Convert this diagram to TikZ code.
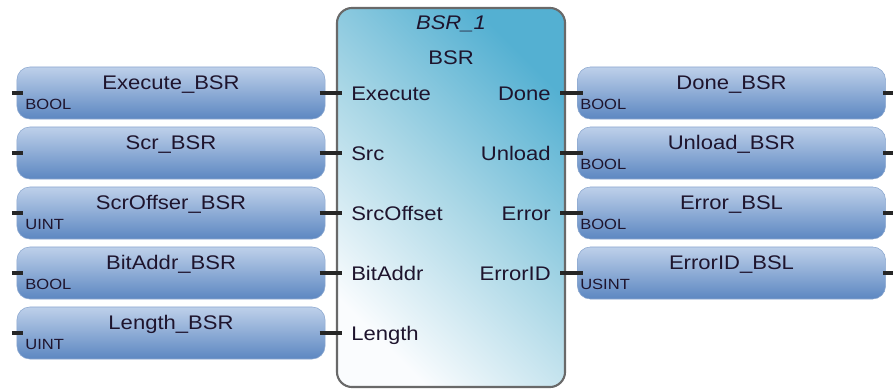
\documentclass[tikz,border=0pt]{standalone}
\usepackage{fontspec}
\setmainfont{Liberation Sans}[FakeStretch=1.12]
\usetikzlibrary{positioning}
\definecolor{varTop}{RGB}{190,208,234}
\definecolor{varBot}{RGB}{92,135,193}
\definecolor{varEdge}{RGB}{140,168,208}
\definecolor{fbTop}{RGB}{84,176,210}
\definecolor{fbMid}{RGB}{170,215,230}
\definecolor{fbBot}{RGB}{250,252,254}
\definecolor{fbEdge}{RGB}{105,105,105}
\definecolor{txt}{RGB}{30,20,45}
\tikzset{
  varbox/.style={rectangle, rounded corners=0.32cm, draw=varEdge, line width=0.4pt,
    top color=varTop, bottom color=varBot, minimum width=7.7cm, minimum height=1.3cm,
    inner sep=0pt, text=txt, text height=10pt, text depth=15.6pt},
  vartype/.style={anchor=base west, inner sep=0pt, text=txt,
    font=\fontsize{10.5}{12}\selectfont},
  pinlbl/.style={inner sep=0pt, text height=10pt, text depth=0pt, text=txt},
  stub/.style={line width=2.2pt, draw=black!85},
}
\begin{document}
\begin{tikzpicture}[x=0.025cm, y=-0.025cm, font=\fontsize{14}{16}\selectfont]
  \useasboundingbox (0,0) rectangle (894,392);
  % function block
  \node[draw=fbEdge, line width=1.5pt, rounded corners=0.38cm, minimum width=5.7cm,
    minimum height=9.475cm, top color=fbTop, bottom color=fbBot, middle color=fbMid,
    shading angle=-45] (bsr) at (451,197.5) {};
  \node[pinlbl, font=\fontsize{14}{16}\selectfont\itshape] (bsrinst) at (451,22) {BSR\_1};
  \node[pinlbl] (bsrtype) at (451,57) {BSR};
  \node[pinlbl, anchor=west] (pExecute) at (351,93) {Execute};
  \node[pinlbl, anchor=west] (pSrc) at (351,153) {Src};
  \node[pinlbl, anchor=west] (pSrcOffset) at (351,213) {SrcOffset};
  \node[pinlbl, anchor=west] (pBitAddr) at (351,273) {BitAddr};
  \node[pinlbl, anchor=west] (pLength) at (351,333) {Length};
  \node[pinlbl, anchor=east] (pDone) at (551,93) {Done};
  \node[pinlbl, anchor=east] (pUnload) at (551,153) {Unload};
  \node[pinlbl, anchor=east] (pError) at (551,213) {Error};
  \node[pinlbl, anchor=east] (pErrorID) at (551,273) {ErrorID};
  % input variables
  \node[varbox] (in1) at (171,93) {Execute\_BSR};
  \node[varbox] (in2) at (171,153) {Scr\_BSR};
  \node[varbox] (in3) at (171,213) {ScrOffser\_BSR};
  \node[varbox] (in4) at (171,273) {BitAddr\_BSR};
  \node[varbox] (in5) at (171,333) {Length\_BSR};
  \node[vartype] (in1t) at ([xshift=6pt, yshift=7pt]in1.south west) {BOOL};
  \node[vartype] (in3t) at ([xshift=6pt, yshift=7pt]in3.south west) {UINT};
  \node[vartype] (in4t) at ([xshift=6pt, yshift=7pt]in4.south west) {BOOL};
  \node[vartype] (in5t) at ([xshift=6pt, yshift=7pt]in5.south west) {UINT};
  % output variables
  \node[varbox] (out1) at (731.5,93) {Done\_BSR};
  \node[varbox] (out2) at (731.5,153) {Unload\_BSR};
  \node[varbox] (out3) at (731.5,213) {Error\_BSL};
  \node[varbox] (out4) at (731.5,273) {ErrorID\_BSL};
  \node[vartype] (out1t) at ([xshift=2pt, yshift=7pt]out1.south west) {BOOL};
  \node[vartype] (out2t) at ([xshift=2pt, yshift=7pt]out2.south west) {BOOL};
  \node[vartype] (out3t) at ([xshift=2pt, yshift=7pt]out3.south west) {BOOL};
  \node[vartype] (out4t) at ([xshift=2pt, yshift=7pt]out4.south west) {USINT};
  % pins
  \draw[stub] ([xshift=-3.5pt]in1.west) -- +(8pt,0) ([xshift=-4pt]in1.east) -- ([xshift=4pt]in1.east -| bsr.west);
  \draw[stub] ([xshift=-3.5pt]in2.west) -- +(8pt,0) ([xshift=-4pt]in2.east) -- ([xshift=4pt]in2.east -| bsr.west);
  \draw[stub] ([xshift=-3.5pt]in3.west) -- +(8pt,0) ([xshift=-4pt]in3.east) -- ([xshift=4pt]in3.east -| bsr.west);
  \draw[stub] ([xshift=-3.5pt]in4.west) -- +(8pt,0) ([xshift=-4pt]in4.east) -- ([xshift=4pt]in4.east -| bsr.west);
  \draw[stub] ([xshift=-3.5pt]in5.west) -- +(8pt,0) ([xshift=-4pt]in5.east) -- ([xshift=4pt]in5.east -| bsr.west);
  \draw[stub] ([xshift=-4pt]bsr.east |- out1.west) -- ([xshift=4pt]out1.west) ([xshift=-2pt]out1.east) -- +(7pt,0);
  \draw[stub] ([xshift=-4pt]bsr.east |- out2.west) -- ([xshift=4pt]out2.west) ([xshift=-2pt]out2.east) -- +(7pt,0);
  \draw[stub] ([xshift=-4pt]bsr.east |- out3.west) -- ([xshift=4pt]out3.west) ([xshift=-2pt]out3.east) -- +(7pt,0);
  \draw[stub] ([xshift=-4pt]bsr.east |- out4.west) -- ([xshift=4pt]out4.west) ([xshift=-2pt]out4.east) -- +(7pt,0);
\end{tikzpicture}
\end{document}
